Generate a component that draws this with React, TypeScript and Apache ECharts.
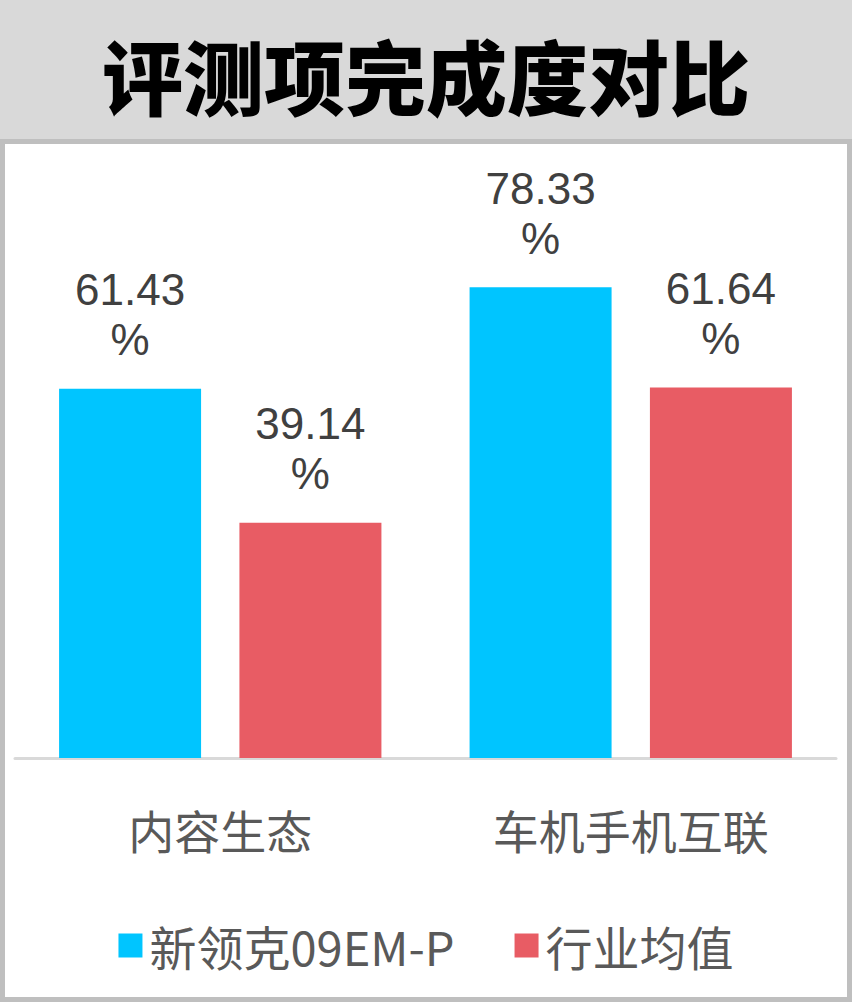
import { useRef, useEffect } from 'react'
import * as echarts from 'echarts'

const categories = ['内容生态', '车机手机互联']
const seriesNames = ['新领克09EM-P', '行业均值']
const carValues = [61.43, 78.33]
const avgValues = [39.14, 61.64]
const colors = ['#00C5FF', '#E85C64']

export default function App() {
  const chartRef = useRef<HTMLDivElement>(null)

  useEffect(() => {
    document.body.style.margin = '0'
    if (!chartRef.current) return
    const chart = echarts.init(chartRef.current, undefined, { renderer: 'svg' })

    const label = {
      show: true,
      position: 'top' as const,
      distance: 24,
      formatter: (p: any) => `${p.value.toFixed(2)}\n%`,
      fontFamily: 'Liberation Sans, Arial, sans-serif',
      fontSize: 44,
      lineHeight: 50,
      color: '#404040'
    }

    chart.setOption({
      animation: false,
      backgroundColor: '#FFFFFF',
      graphic: [
        {
          type: 'rect',
          z: -10,
          shape: { x: 0, y: 0, width: 852, height: 141 },
          style: { fill: '#D9D9D9' }
        },
        {
          type: 'rect',
          z: -10,
          shape: { x: 2.5, y: 141.5, width: 847, height: 858 },
          style: { fill: '#FFFFFF', stroke: '#BFBFBF', lineWidth: 5 }
        },
        {
          type: 'text',
          x: 426,
          y: 73,
          style: {
            text: '评测项完成度对比',
            align: 'center',
            verticalAlign: 'middle',
            fontFamily: 'Noto Sans CJK SC',
            fontWeight: 900,
            fontSize: 81,
            fill: '#000000'
          }
        }
      ],
      legend: {
        data: seriesNames,
        left: 'center',
        top: 917,
        itemWidth: 24,
        itemHeight: 24,
        itemGap: 60,
        icon: 'rect',
        textStyle: {
          fontFamily: 'Noto Sans CJK SC',
          fontSize: 47,
          color: '#595959',
          padding: [0, 0, 0, 2]
        }
      },
      grid: { left: 15, right: 16, top: 157, bottom: 244 },
      xAxis: {
        type: 'category',
        data: categories,
        axisLine: { lineStyle: { color: '#D9D9D9', width: 3 } },
        axisTick: { show: false },
        axisLabel: {
          margin: 48,
          fontFamily: 'Noto Sans CJK SC',
          fontSize: 46,
          color: '#595959'
        }
      },
      yAxis: {
        type: 'value',
        min: 0,
        max: 100,
        show: false,
        splitLine: { show: false }
      },
      series: [
        {
          name: seriesNames[0],
          type: 'bar',
          data: carValues,
          barWidth: 142,
          barGap: '27%',
          itemStyle: { color: colors[0] },
          label
        },
        {
          name: seriesNames[1],
          type: 'bar',
          data: avgValues,
          barWidth: 142,
          barGap: '27%',
          itemStyle: { color: colors[1] },
          label
        }
      ]
    })

    return () => {
      chart.dispose()
    }
  }, [])

  return <div ref={chartRef} style={{ width: 852, height: 1002 }} />
}
